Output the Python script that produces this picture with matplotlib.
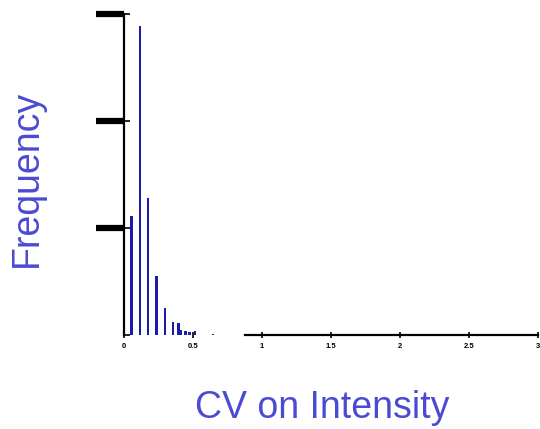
"""
Histogram of CV on intensity (thin blue bars, heavy black ticks).
"""

import numpy as np
import matplotlib
matplotlib.use("Agg")
import matplotlib.pyplot as plt

# ---- data -------------------------------------------------------
bin_centers = [0.055, 0.115, 0.175, 0.235, 0.295, 0.355, 0.395, 0.415,
               0.445, 0.475, 0.515, 0.645]
counts      = [111, 289, 128, 55, 25, 12, 11, 5, 4, 3, 4, 1]
x_ticks       = [0, 0.5, 1, 1.5, 2, 2.5, 3]
x_tick_labels = ["0", "0.5", "1", "1.5", "2", "2.5", "3"]
y_ticks       = [0, 100, 200, 300]

BAR_COLOR   = "#1c1ca8"
LABEL_COLOR = "#4b4bd2"

plt.rcParams["font.family"] = ["Liberation Sans", "DejaVu Sans"]

fig = plt.figure(figsize=(5.4, 4.29), dpi=100)
ax = fig.add_axes([124 / 540, 94 / 429, 414 / 540, 321 / 429])

ax.bar(bin_centers, counts, width=0.017, color=BAR_COLOR, linewidth=0)

ax.set_xlim(0, 3)
ax.set_ylim(0, 300)

for side in ("top", "right"):
    ax.spines[side].set_visible(False)
ax.spines["left"].set_linewidth(1.6)
ax.spines["bottom"].set_linewidth(1.6)
ax.spines["bottom"].set_bounds(0.88, 3)

ax.set_xticks(x_ticks)
ax.set_xticklabels(x_tick_labels, fontsize=5.5, fontweight="bold")
ax.tick_params(axis="x", direction="inout", length=5, width=1.2, pad=3)

# heavy tick blobs on the left (not at zero), short thin tick to the right
ax.set_yticks(y_ticks[1:])
ax.set_yticklabels([])
ax.tick_params(axis="y", direction="out", length=20, width=4.5)
ax.set_yticks(y_ticks, minor=True)
ax.yaxis.remove_overlapping_locs = False
ax.tick_params(axis="y", which="minor", direction="in", length=4, width=1.2)

fig.text(322 / 540, 1 - 408 / 429, "CV on Intensity", color=LABEL_COLOR,
         fontsize=27, ha="center", va="center")
fig.text(27 / 540, 1 - 178 / 429, "Frequency", color=LABEL_COLOR,
         fontsize=27, ha="center", va="center", rotation=90)

fig.savefig("out.png", dpi=100)
